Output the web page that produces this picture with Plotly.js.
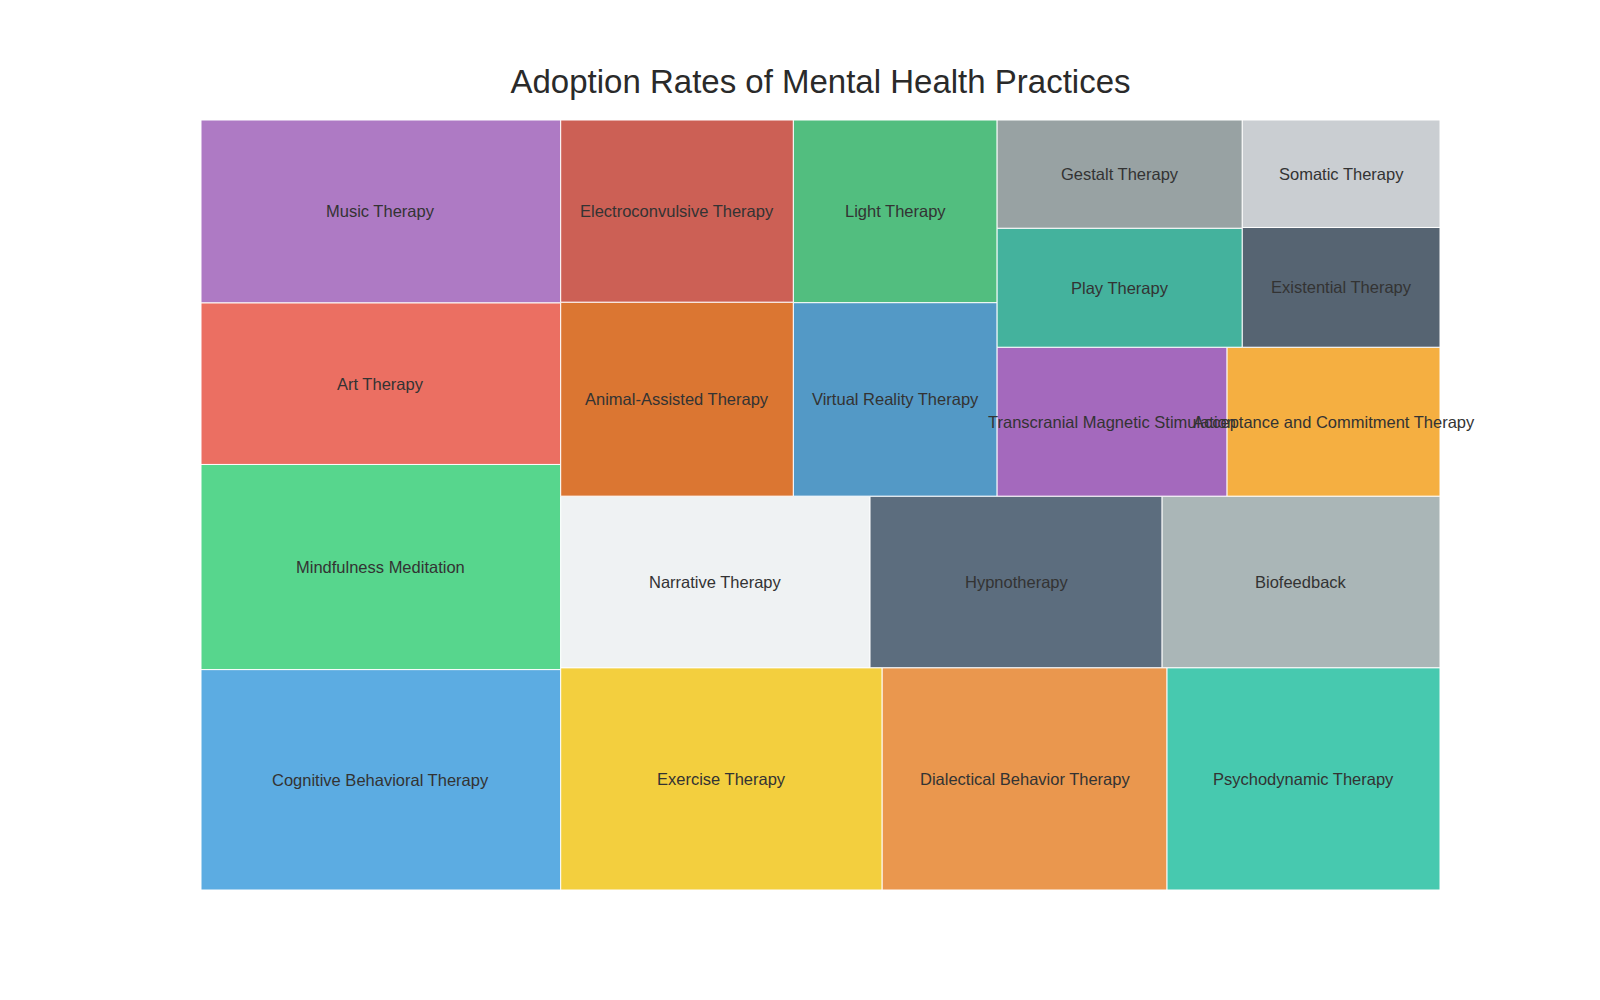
<!DOCTYPE html>
<html>
<head>
<meta charset="utf-8">
<script src="https://cdn.plot.ly/plotly-3.0.1.min.js"></script>
<style>html,body{margin:0;padding:0;background:#fff;}</style>
</head>
<body>
<div id="chart" style="width:1600px;height:1000px;"></div>
<script>
// ---- Data (order as laid out by the squarify algorithm) ----
const practices = [
  "Cognitive Behavioral Therapy",
  "Mindfulness Meditation",
  "Art Therapy",
  "Music Therapy",
  "Exercise Therapy",
  "Dialectical Behavior Therapy",
  "Psychodynamic Therapy",
  "Narrative Therapy",
  "Hypnotherapy",
  "Biofeedback",
  "Animal-Assisted Therapy",
  "Electroconvulsive Therapy",
  "Virtual Reality Therapy",
  "Light Therapy",
  "Transcranial Magnetic Stimulation",
  "Acceptance and Commitment Therapy",
  "Play Therapy",
  "Gestalt Therapy",
  "Existential Therapy",
  "Somatic Therapy"
];
const adoptionRates = [75.0, 69.8, 55.0, 62.2, 67.6, 59.9, 57.4, 50.2, 47.4, 45.1,
                       42.7, 40.1, 37.3, 35.2, 32.4, 30.0, 27.6, 25.1, 22.4, 20.1];
const tileColors = [
  "#3498db", "#2ecc71", "#e74c3c", "#9b59b6", "#f1c40f",
  "#e67e22", "#1abc9c", "#ecf0f1", "#34495e", "#95a5a6",
  "#d35400", "#c0392b", "#2980b9", "#27ae60", "#8e44ad",
  "#f39c12", "#16a085", "#7f8c8d", "#2c3e50", "#bdc3c7"
];

// ---- squarify (same algorithm as the python "squarify" package) ----
function sum(a) { return a.reduce((s, v) => s + v, 0); }
function normalizeSizes(sizes, dx, dy) {
  const total = sum(sizes);
  return sizes.map(s => s * dx * dy / total);
}
function layoutRow(sizes, x, y, dx, dy) {
  const width = sum(sizes) / dy;
  const rects = [];
  for (const s of sizes) { rects.push({x: x, y: y, dx: width, dy: s / width}); y += s / width; }
  return rects;
}
function layoutCol(sizes, x, y, dx, dy) {
  const height = sum(sizes) / dx;
  const rects = [];
  for (const s of sizes) { rects.push({x: x, y: y, dx: s / height, dy: height}); x += s / height; }
  return rects;
}
function layout(sizes, x, y, dx, dy) {
  return dx >= dy ? layoutRow(sizes, x, y, dx, dy) : layoutCol(sizes, x, y, dx, dy);
}
function leftover(sizes, x, y, dx, dy) {
  if (dx >= dy) { const w = sum(sizes) / dy; return [x + w, y, dx - w, dy]; }
  const h = sum(sizes) / dx; return [x, y + h, dx, dy - h];
}
function worstRatio(sizes, x, y, dx, dy) {
  return Math.max(...layout(sizes, x, y, dx, dy).map(r => Math.max(r.dx / r.dy, r.dy / r.dx)));
}
function squarify(sizes, x, y, dx, dy) {
  if (sizes.length === 0) return [];
  if (sizes.length === 1) return layout(sizes, x, y, dx, dy);
  let i = 1;
  while (i < sizes.length &&
         worstRatio(sizes.slice(0, i), x, y, dx, dy) >= worstRatio(sizes.slice(0, i + 1), x, y, dx, dy)) i++;
  const current = sizes.slice(0, i), remaining = sizes.slice(i);
  const [lx, ly, ldx, ldy] = leftover(current, x, y, dx, dy);
  return layout(current, x, y, dx, dy).concat(squarify(remaining, lx, ly, ldx, ldy));
}

const W = 100, H = 100;
const rects = squarify(normalizeSizes(adoptionRates, W, H), 0, 0, W, H);

const FONT = "Arial, 'Liberation Sans', Helvetica, sans-serif";

const shapes = rects.map((r, i) => ({
  type: "rect", xref: "x", yref: "y",
  x0: r.x, y0: r.y, x1: r.x + r.dx, y1: r.y + r.dy,
  fillcolor: tileColors[i], opacity: 0.8,
  line: {color: "#ffffff", width: 1},
  layer: "below"
}));
const annotations = rects.map((r, i) => ({
  x: r.x + r.dx / 2, y: r.y + r.dy / 2, xref: "x", yref: "y",
  text: practices[i], showarrow: false,
  font: {family: FONT, size: 16.5, color: "#333333"}
}));

const trace = {
  type: "scatter", mode: "markers",
  x: rects.map(r => r.x + r.dx / 2),
  y: rects.map(r => r.y + r.dy / 2),
  text: practices.map((p, i) => p + ": " + adoptionRates[i]),
  hoverinfo: "text",
  marker: {opacity: 0, size: 1},
  showlegend: false
};

const layoutCfg = {
  width: 1600, height: 1000,
  title: {
    text: "Adoption Rates of Mental Health Practices",
    x: 0.5, xref: "paper", xanchor: "center",
    y: 0.919, yanchor: "middle", yref: "container",
    font: {family: FONT, size: 33, color: "#2a2a2a"}
  },
  margin: {l: 201, r: 160, t: 120, b: 110},
  xaxis: {range: [0, W], visible: false, showgrid: false, zeroline: false, fixedrange: true},
  yaxis: {range: [0, H], visible: false, showgrid: false, zeroline: false, fixedrange: true},
  shapes: shapes,
  annotations: annotations,
  paper_bgcolor: "#ffffff",
  plot_bgcolor: "#ffffff",
  showlegend: false
};

Plotly.newPlot("chart", [trace], layoutCfg, {displayModeBar: false});
</script>
</body>
</html>
